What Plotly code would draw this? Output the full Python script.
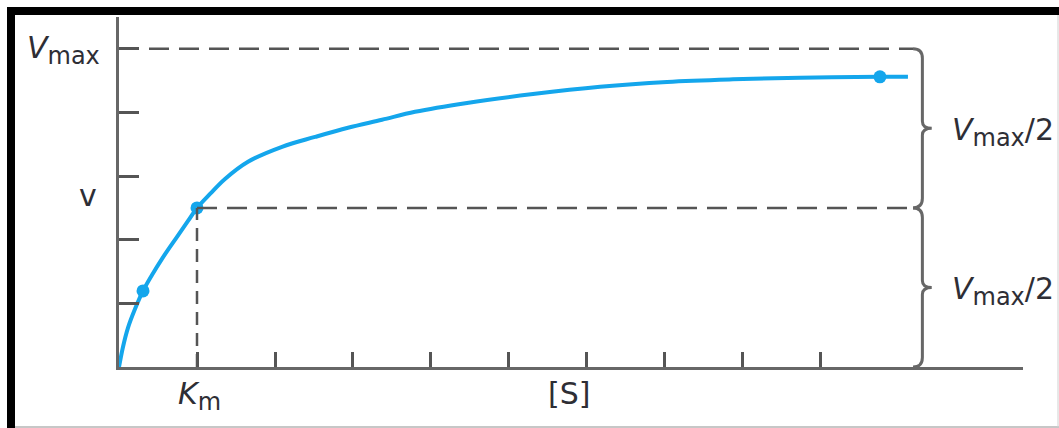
import plotly.graph_objects as go

# Michaelis-Menten saturation curve: substrate concentration [S] in units of Km,
# reaction velocity v as a fraction of Vmax
s_values = [0, 0.051, 0.115, 0.205, 0.308, 0.423, 0.551, 0.744, 0.885, 1.0,
            1.167, 1.359, 1.654, 2.090, 2.513, 2.936, 3.372, 3.795, 4.462, 5.308,
            6.167, 7.026, 7.872, 8.731, 9.756, 10.115]
v_values = [0, 0.063, 0.123, 0.182, 0.239, 0.289, 0.340, 0.409, 0.459, 0.50,
            0.544, 0.591, 0.645, 0.692, 0.723, 0.752, 0.777, 0.802, 0.830, 0.858,
            0.881, 0.896, 0.904, 0.909, 0.912, 0.912]

# highlighted points on the curve
dot_s = [0.308, 1.0, 9.756]
dot_v = [0.239, 0.50, 0.912]

x_ticks = [1, 2, 3, 4, 5, 6, 7, 8, 9]
y_ticks = [0.2, 0.4, 0.6, 0.8, 1.0]
km = 1.0
vmax = 1.0
half = 0.5

W, H = 1059, 428
AX = "#676767"
TXT = "#2e2e35"
BLUE = "#14a6ec"
FONT = "DejaVu Sans, Verdana, sans-serif"


def px(x):
    return x / W


def py(y):
    return 1 - y / H


fig = go.Figure()
fig.add_trace(go.Scatter(x=s_values, y=v_values, mode="lines",
                         line=dict(color=BLUE, width=4, shape="spline", smoothing=1.0),
                         hoverinfo="skip"))
fig.add_trace(go.Scatter(x=dot_s, y=dot_v, mode="markers",
                         marker=dict(color=BLUE, size=13), hoverinfo="skip"))

shapes = []
dash_h = dict(color="#555555", width=2.5, dash="20px,10px")
# Vmax and Vmax/2 reference lines, Km drop line
shapes.append(dict(type="line", xref="x", yref="y", x0=0, x1=10.18, y0=vmax, y1=vmax, line=dash_h))
shapes.append(dict(type="line", xref="x", yref="y", x0=km, x1=10.20, y0=half, y1=half, line=dash_h))
shapes.append(dict(type="line", xref="x", yref="y", x0=km, x1=km, y0=0, y1=half,
                   line=dict(color="#555555", width=2.5, dash="13px,8px")))

# curly braces spanning each half of Vmax
x0b, x1b, x2b = 10.18, 10.30, 10.42
r, t = 0.03, 0.022
for top, bot in [(vmax, half), (half, 0.0)]:
    mid = (top + bot) / 2
    path = (f"M {x0b},{top} Q {x1b},{top} {x1b},{top - r} "
            f"L {x1b},{mid + t} Q {x1b},{mid} {x2b},{mid} "
            f"Q {x1b},{mid} {x1b},{mid - t} "
            f"L {x1b},{bot + r} Q {x1b},{bot} {x0b},{bot}")
    shapes.append(dict(type="path", xref="x", yref="y", path=path,
                       line=dict(color=AX, width=3)))

# picture frame
shapes.append(dict(type="rect", xref="paper", yref="paper", x0=px(7), x1=px(15), y0=0, y1=py(7),
                   fillcolor="black", line=dict(width=0)))
shapes.append(dict(type="rect", xref="paper", yref="paper", x0=px(7), x1=1, y0=py(15), y1=py(7),
                   fillcolor="black", line=dict(width=0)))
shapes.append(dict(type="line", xref="paper", yref="paper", x0=px(15), x1=1, y0=py(427), y1=py(427),
                   line=dict(color="#b5b5b5", width=1.5)))
shapes.append(dict(type="line", xref="paper", yref="paper", x0=px(1058), x1=px(1058), y0=py(15), y1=py(427),
                   line=dict(color="#d0d0d0", width=1)))

sub = '<sub><span style="font-size:24px">max</span></sub>'
annotations = [
    dict(text=f"<i>V</i>{sub}", x=px(63), y=py(50), xanchor="center", yanchor="middle"),
    dict(text="v", x=px(88), y=py(195), xanchor="center", yanchor="middle"),
    dict(text='<i>K</i><sub><span style="font-size:24px">m</span></sub>', x=px(199), y=py(396),
         xanchor="center", yanchor="middle"),
    dict(text="[S]", x=px(569), y=py(393), xanchor="center", yanchor="middle"),
    dict(text=f"<i>V</i>{sub}/2", x=px(950), y=py(132), xanchor="left", yanchor="middle"),
    dict(text=f"<i>V</i>{sub}/2", x=px(950), y=py(291), xanchor="left", yanchor="middle"),
]
for a in annotations:
    a.update(xref="paper", yref="paper", showarrow=False,
             font=dict(family=FONT, size=30, color=TXT))

fig.update_layout(
    width=W, height=H,
    margin=dict(l=0, r=0, t=0, b=0),
    paper_bgcolor="white", plot_bgcolor="white",
    showlegend=False,
    shapes=shapes,
    annotations=annotations,
    xaxis=dict(domain=[px(119), px(1023)], range=[0, 11.59],
               showline=True, linecolor=AX, linewidth=3,
               ticks="inside", ticklen=15, tickwidth=2.5, tickcolor="#555555",
               tickvals=x_ticks, showticklabels=False,
               showgrid=False, zeroline=False, fixedrange=True),
    yaxis=dict(domain=[1 - 367 / H, 1 - 17 / H], range=[0, 1.10],
               showline=True, linecolor=AX, linewidth=3,
               ticks="inside", ticklen=20, tickwidth=2.5, tickcolor="#555555",
               tickvals=y_ticks, showticklabels=False,
               showgrid=False, zeroline=False, fixedrange=True),
)

fig.write_html("out.html")
